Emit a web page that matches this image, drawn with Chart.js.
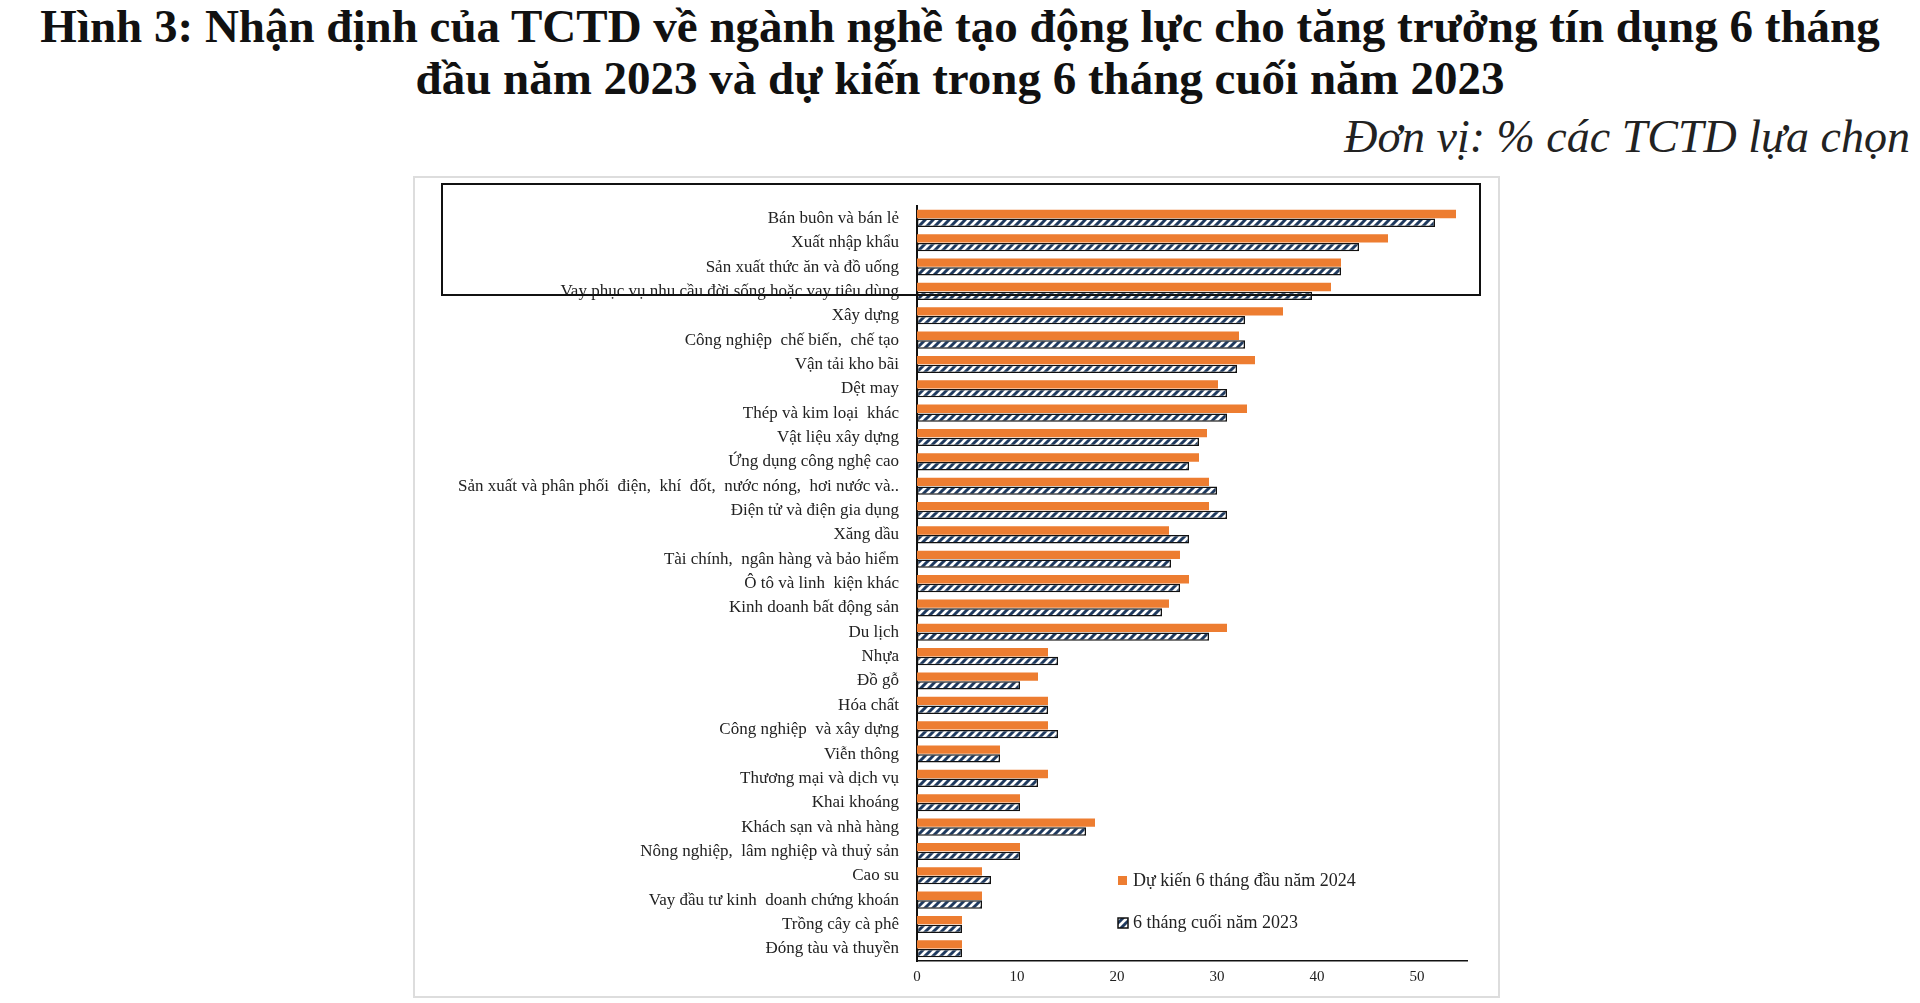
<!DOCTYPE html>
<html><head><meta charset="utf-8">
<script src="https://cdn.jsdelivr.net/npm/chart.js@4/dist/chart.umd.min.js"></script>
<style>
body{margin:0;background:#fff;width:1920px;height:1003px;position:relative;overflow:hidden;font-family:"Liberation Serif",serif}
#t{position:absolute;top:0px;left:0;width:1920px;text-align:center;font-weight:bold;font-size:47px;line-height:52px;color:#111}
#u{position:absolute;top:110px;right:10px;font-style:italic;font-size:46px;color:#222}
#box{position:absolute;left:413px;top:176px;width:1087px;height:822px;border:2px solid #ddd;box-sizing:border-box}
canvas{position:absolute;left:0;top:0}
</style></head><body>
<div id="t">Hình 3: Nhận định của TCTD về ngành nghề tạo động lực cho tăng trưởng tín dụng 6 tháng<br>đầu năm 2023 và dự kiến trong 6 tháng cuối năm 2023</div>
<div id="u">Đơn vị: % các TCTD lựa chọn</div>
<div id="box"><canvas id="c"></canvas></div>
<script>
const categories = ['Bán buôn và bán lẻ','Xuất nhập khẩu','Sản xuất thức ăn và đồ uống','Vay phục vụ nhu cầu đời sống hoặc vay tiêu dùng','Xây dựng','Công nghiệp  chế biến,  chế tạo','Vận tải kho bãi','Dệt may','Thép và kim loại  khác','Vật liệu xây dựng','Ứng dụng công nghệ cao','Sản xuất và phân phối  điện,  khí  đốt,  nước nóng,  hơi nước và..','Điện tử và điện gia dụng','Xăng dầu','Tài chính,  ngân hàng và bảo hiểm','Ô tô và linh  kiện khác','Kinh doanh bất động sản','Du lịch','Nhựa','Đồ gỗ','Hóa chất','Công nghiệp  và xây dựng','Viễn thông','Thương mại và dịch vụ','Khai khoáng','Khách sạn và nhà hàng','Nông nghiệp,  lâm nghiệp và thuỷ sản','Cao su','Vay đầu tư kinh  doanh chứng khoán','Trồng cây cà phê','Đóng tàu và thuyền'];
const forecast = [53.9,47.1,42.4,41.4,36.6,32.2,33.8,30.1,33.0,29.0,28.2,29.2,29.2,25.2,26.3,27.2,25.2,31.0,13.1,12.1,13.1,13.1,8.3,13.1,10.3,17.8,10.3,6.5,6.5,4.5,4.5];
const lastHalf = [51.8,44.2,42.4,39.5,32.8,32.8,32.0,31.0,31.0,28.2,27.2,30.0,31.0,27.2,25.4,26.3,24.5,29.2,14.1,10.3,13.1,14.1,8.3,12.1,10.3,16.9,10.3,7.4,6.5,4.5,4.5];
const seriesNames = ['Dự kiến 6 tháng đầu năm 2024','6 tháng cuối năm 2023'];
const xTicks = [0,10,20,30,40,50];

const W = 1083, H = 818;
const cv = document.getElementById('c');
cv.width = W; cv.height = H; cv.style.width = W+'px'; cv.style.height = H+'px';

// diagonal hatch fill
const pc = document.createElement('canvas');
pc.width = 8; pc.height = 8;
const p = pc.getContext('2d');
p.fillStyle = '#fff'; p.fillRect(0,0,8,8);
p.strokeStyle = '#1f3a5f'; p.lineWidth = 3;
p.beginPath(); p.moveTo(-2,10); p.lineTo(10,-2); p.moveTo(-2,2); p.lineTo(2,-2); p.moveTo(6,10); p.lineTo(10,6); p.stroke();
const hatch = cv.getContext('2d').createPattern(pc,'repeat');

const extras = {
  id:'extras',
  afterDraw(chart){
    const ctx = chart.ctx;
    // highlight box around top four
    ctx.save();
    ctx.strokeStyle = '#111'; ctx.lineWidth = 2;
    ctx.strokeRect(27, 6, 1038, 111);
    // legend
    ctx.font = '18px "Liberation Serif"'; ctx.textBaseline = 'middle';
    ctx.fillStyle = '#ed7d31'; ctx.fillRect(703, 698, 9, 9);
    ctx.fillStyle = '#222'; ctx.fillText(seriesNames[0], 718, 703);
    ctx.fillStyle = hatch; ctx.fillRect(703, 740, 10, 10);
    ctx.strokeStyle = '#111'; ctx.lineWidth = 1.5; ctx.strokeRect(703, 740, 10, 10);
    ctx.fillStyle = '#222'; ctx.fillText(seriesNames[1], 718, 745);
    ctx.restore();
  }
};

new Chart(cv, {
  type:'bar',
  data:{ labels:categories, datasets:[
    {label:seriesNames[0], data:forecast, backgroundColor:'#ed7d31', categoryPercentage:0.72, barPercentage:0.95},
    {label:seriesNames[1], data:lastHalf, backgroundColor:hatch, borderColor:'#111', borderWidth:1.5, borderSkipped:false, categoryPercentage:0.72, barPercentage:0.95}
  ]},
  options:{
    indexAxis:'y', responsive:false, animation:false,
    layout:{padding:{left:0,top:-10,right:31,bottom:0}},
    plugins:{legend:{display:false}, tooltip:{enabled:false}},
    scales:{
      y:{
        grid:{display:false, drawTicks:false},
        border:{color:'#111', width:2},
        ticks:{color:'#222', font:{family:'"Liberation Serif"', size:17}, autoSkip:false, padding:18},
        afterFit(s){ s.width = 502; }
      },
      x:{
        min:0, max:55,
        grid:{display:false, drawTicks:true, tickLength:4},
        border:{color:'#111', width:1.5},
        afterBuildTicks(s){ s.ticks = xTicks.map(v=>({value:v})); },
        ticks:{color:'#222', font:{family:'"Liberation Serif"', size:15}},
        afterFit(s){ s.height = 35; }
      }
    }
  },
  plugins:[extras]
});
</script>
</body></html>
